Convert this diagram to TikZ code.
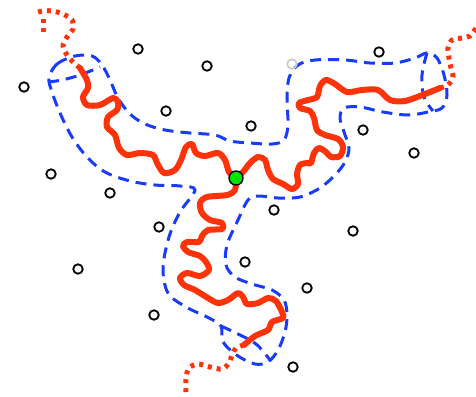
\documentclass[tikz,border=0pt]{standalone}
\definecolor{redc}{RGB}{255,51,10}
\definecolor{bluec}{RGB}{25,60,250}
\definecolor{greenc}{RGB}{0,230,0}
\begin{document}
\begin{tikzpicture}[x=1pt,y=-1pt,
  redline/.style={draw=redc, line width=6pt, line cap=round, line join=round},
  reddots/.style={draw=redc, line width=5pt, dash pattern=on 4pt off 5pt},
  bluedash/.style={draw=bluec, line width=3pt, dash pattern=on 11pt off 7pt},
  pt/.style={circle, draw=black, line width=1.8pt, minimum size=9.5pt, inner sep=0pt},
  ptgray/.style={pt, draw=black!20},
  root/.style={circle, draw=black, fill=greenc, line width=1.4pt, minimum size=14pt, inner sep=0pt}]
\useasboundingbox (0,0) rectangle (476,396);
% blue envelope
\draw[bluedash] plot[smooth cycle, tension=0.55] coordinates {
 (49,78) (57,64) (75,56) (92,56) (102,65) (110,80) (118,98) (130,114) (145,124)
 (165,130) (190,133) (215,135) (230,141) (250,143) (272,144) (284,140) (288,125)
 (287,100) (289,78) (298,65) (315,60) (345,60) (370,63) (395,63) (415,58) (427,53)
 (437,58) (444,75) (447,95) (442,108) (428,112) (408,115) (383,112) (360,107)
 (344,108) (340,118) (344,132) (349,148) (345,162) (335,175) (320,188) (300,197)
 (278,198) (258,196) (248,200) (238,220) (227,245) (226,265) (235,277) (252,284)
 (272,290) (284,300) (287,315) (285,332) (278,350) (268,362) (255,364) (238,356)
 (223,342) (221,326) (207,317) (186,307) (168,293) (163,268) (169,237) (180,212)
 (195,190) (180,186) (155,185) (130,181) (105,172) (87,157) (72,137) (60,113) (52,92)};
\draw[bluedash] plot[smooth, tension=0.6] coordinates {(48,82) (62,80) (80,75) (100,67)};
\draw[bluedash] plot[smooth, tension=0.6] coordinates {(427,53) (422,75) (424,97) (433,111)};
\draw[bluedash] plot[smooth, tension=0.6] coordinates {(221,326) (238,334) (256,344) (270,360)};
% red tree
\draw[redline] plot[smooth, tension=0.5] coordinates {
 (236,178) (229,172) (225,160) (218,153) (205,156) (196,153) (192,144) (186,147)
 (181,160) (175,170) (164,173) (157,163) (153,155) (140,153) (127,155) (119,148)
 (115,135) (107,127) (108,117) (117,110) (118,102) (113,98) (100,105) (87,105)
 (83,97) (88,88) (87,80) (80,68)};
\draw[reddots] plot[smooth, tension=0.5] coordinates {
 (80,68) (73,62) (67,55) (63,46) (67,37) (73,29) (72,20) (63,14) (53,11) (43,11) (35,13)};
\draw[reddots] (43,19) -- (43,32);
\draw[redline] plot[smooth, tension=0.5] coordinates {
 (236,178) (243,172) (250,163) (258,157) (265,160) (268,170) (273,179) (283,184)
 (292,189) (298,184) (297,174) (300,165) (307,163) (311,163) (314,153) (319,148)
 (326,152) (331,157) (340,156) (343,147) (338,139) (325,135) (317,130) (314,118)
 (310,111) (300,108) (299,103) (308,100) (317,97) (320,86) (326,80) (335,84)
 (347,92) (362,90) (378,90) (390,100) (405,101) (425,94) (440,88)};
\draw[reddots] plot[smooth, tension=0.5] coordinates {
 (440,88) (448,85) (453,77) (451,68) (449,58) (448,48) (452,40) (462,38) (470,36) (476,28)};
\draw[redline] plot[smooth, tension=0.5] coordinates {
 (236,178) (235,190) (227,195) (207,197) (200,203) (202,213) (210,220) (222,223)
 (222,229) (208,230) (202,236) (199,242) (187,242) (183,246) (188,252) (200,256)
 (206,262) (209,270) (200,276) (187,273) (180,278) (184,285) (195,290) (208,298)
 (218,303) (228,300) (238,293) (243,297) (247,304) (258,303) (268,298) (276,301)
 (282,312) (283,318) (272,322) (268,330) (255,336) (244,345)};
\draw[reddots] plot[smooth, tension=0.5] coordinates {
 (244,345) (236,348) (232,355) (229,363) (222,369) (210,367) (198,364) (189,368) (186,378) (186,392)};
% sample points
\node[pt] (p1) at (138,49) {};
\node[pt] (p2) at (207,66) {};
\node[pt] (p3) at (24,87) {};
\node[pt] (p4) at (166,111) {};
\node[pt] (p5) at (251,126) {};
\node[pt] (p6) at (379,52) {};
\node[ptgray] (p7) at (292,64) {};
\node[pt] (p8) at (363,130) {};
\node[pt] (p9) at (414,153) {};
\node[pt] (p10) at (51,174) {};
\node[pt] (p11) at (110,193) {};
\node[pt] (p12) at (274,210) {};
\node[pt] (p13) at (159,227) {};
\node[pt] (p14) at (353,231) {};
\node[pt] (p15) at (245,262) {};
\node[pt] (p16) at (78,269) {};
\node[pt] (p17) at (307,288) {};
\node[pt] (p18) at (154,315) {};
\node[pt] (p19) at (293,367) {};
\node[root] (r) at (236,178) {};
\end{tikzpicture}
\end{document}
